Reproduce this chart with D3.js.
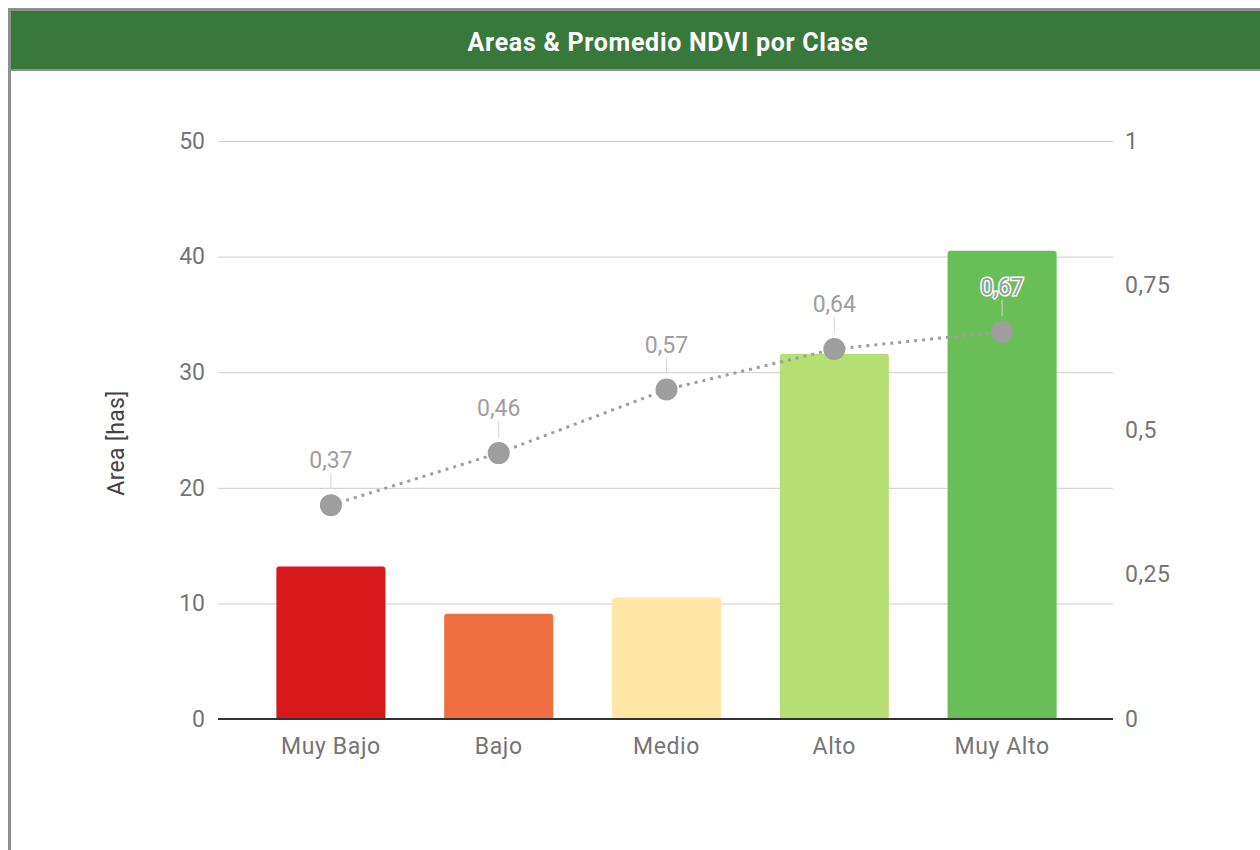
<!DOCTYPE html>
<html>
<head>
<meta charset="utf-8">
<script src="https://cdnjs.cloudflare.com/ajax/libs/d3/7.8.5/d3.min.js"></script>
<style>
  body { margin: 0; background: #fff; overflow: hidden; }
  #chart { font-family: Roboto, "Noto Sans", sans-serif; }
</style>
</head>
<body>
<div id="chart"></div>
<script>
'use strict';

var categories = ["Muy Bajo", "Bajo", "Medio", "Alto", "Muy Alto"];
var areas = [13.2, 9.1, 10.5, 31.6, 40.5];
var ndvi = [0.37, 0.46, 0.57, 0.64, 0.67];
var barColors = ["#d7191c", "#ee6f40", "#ffe8a5", "#b5df73", "#6abe58"];
var leftTicks = [0, 10, 20, 30, 40, 50];
var rightTicks = [0, 0.25, 0.5, 0.75, 1];

var W = 1260, H = 850;
var margin = {top: 141, left: 218, right: 147, bottom: 131};
var width = W - margin.left - margin.right,
  height = H - margin.top - margin.bottom;

var fontSize = "23px";
var comma = (v) => String(v).replace(".", ",");

var svg = d3.select("#chart").append("svg")
  .attr("width", W)
  .attr("height", H);

// frame + header
svg.append("rect")
  .attr("x", 9.5).attr("y", 9.5)
  .attr("width", 1300).attr("height", 900)
  .attr("fill", "#fff")
  .attr("stroke", "#8f8f8f").attr("stroke-width", 3);
svg.append("rect")
  .attr("x", 11).attr("y", 11)
  .attr("width", 1300).attr("height", 58)
  .attr("fill", "#38783b");
svg.append("line")
  .attr("x1", 11).attr("x2", W)
  .attr("y1", 70).attr("y2", 70)
  .attr("stroke", "#8f8f8f").attr("stroke-width", 2);
svg.append("text")
  .attr("x", 668).attr("y", 51)
  .attr("text-anchor", "middle")
  .style("font-family", "Roboto, sans-serif")
  .style("font-weight", "bold")
  .style("font-size", "25px")
  .style("letter-spacing", "0.7px")
  .attr("fill", "#fff")
  .text("Areas & Promedio NDVI por Clase");

var g = svg.append("g")
  .attr("transform", "translate(" + margin.left + "," + margin.top + ")");

var x = d3.scaleBand()
  .domain(categories)
  .range([29, 868])
  .paddingInner(0.35)
  .paddingOuter(0.175);
var y = d3.scaleLinear().domain([0, 50]).range([height, 0]);
var y2 = d3.scaleLinear().domain([0, 1]).range([height, 0]);

// gridlines
g.selectAll(".grid")
  .data(leftTicks.slice(1))
  .enter().append("line")
  .attr("class", "grid")
  .attr("x1", 0).attr("x2", width)
  .attr("y1", (d) => y(d) + 0.5).attr("y2", (d) => y(d) + 0.5)
  .attr("stroke", "#cccccc");

// left axis labels
var yAxis = d3.axisLeft(y).tickValues(leftTicks).tickSize(0).tickPadding(13);
g.append("g").call(yAxis)
  .call((a) => a.select(".domain").remove())
  .selectAll("text")
  .style("font-size", fontSize)
  .style("font-family", "Roboto, sans-serif")
  .attr("fill", "#757575");

var y2Axis = d3.axisRight(y2).tickValues(rightTicks).tickSize(0).tickPadding(12)
  .tickFormat(comma);
g.append("g").attr("transform", "translate(" + width + ",0)").call(y2Axis)
  .call((a) => a.select(".domain").remove())
  .selectAll("text")
  .style("font-size", fontSize)
  .style("font-family", "Roboto, sans-serif")
  .style("letter-spacing", "0.5px")
  .attr("fill", "#757575");

// axis title
g.append("text")
  .attr("transform", "translate(" + (-94) + "," + (height / 2 + 13) + ") rotate(-90)")
  .attr("text-anchor", "middle")
  .style("font-size", fontSize)
  .style("letter-spacing", "0.3px")
  .attr("fill", "#444")
  .text("Area [has]");

// bars
g.selectAll(".bar")
  .data(areas)
  .enter().append("path")
  .attr("class", "bar")
  .attr("d", function(d, i) {
    var x0 = x(categories[i]), bw = x.bandwidth(), y0 = y(d), r = 3;
    return "M" + x0 + "," + height +
      "V" + (y0 + r) + "Q" + x0 + "," + y0 + " " + (x0 + r) + "," + y0 +
      "H" + (x0 + bw - r) + "Q" + (x0 + bw) + "," + y0 + " " + (x0 + bw) + "," + (y0 + r) +
      "V" + height + "Z";
  })
  .attr("fill", (d, i) => barColors[i]);

// baseline
g.append("line")
  .attr("x1", 0).attr("x2", width)
  .attr("y1", height).attr("y2", height)
  .attr("stroke", "#333").attr("stroke-width", 2);

// x labels
var xAxis = d3.axisBottom(x).tickSize(0).tickPadding(19);
g.append("g").attr("transform", "translate(0," + height + ")").call(xAxis)
  .call((a) => a.select(".domain").remove())
  .selectAll("text")
  .style("font-size", fontSize)
  .style("font-family", "Roboto, sans-serif")
  .style("letter-spacing", "0.6px")
  .attr("fill", "#757575");

// ndvi line
var cx = (i) => x(categories[i]) + x.bandwidth() / 2;
var line = d3.line()
  .x((d, i) => cx(i))
  .y((d) => y2(d));

g.append("path")
  .attr("d", line(ndvi))
  .attr("fill", "none")
  .attr("stroke", "#9e9e9e")
  .attr("stroke-width", 3)
  .attr("stroke-dasharray", "3,5");

// stems
g.selectAll(".stem")
  .data(ndvi)
  .enter().append("line")
  .attr("x1", (d, i) => cx(i)).attr("x2", (d, i) => cx(i))
  .attr("y1", (d) => y2(d) - 16).attr("y2", (d) => y2(d) - 32)
  .attr("stroke", "#d6d6d6");

g.selectAll(".pt")
  .data(ndvi)
  .enter().append("circle")
  .attr("cx", (d, i) => cx(i))
  .attr("cy", (d) => y2(d))
  .attr("r", 11)
  .attr("fill", "#9e9e9e");

g.selectAll(".lbl")
  .data(ndvi)
  .enter().append("text")
  .attr("x", (d, i) => cx(i))
  .attr("y", (d) => y2(d) - 37)
  .attr("text-anchor", "middle")
  .style("font-size", fontSize)
  .attr("fill", "#9e9e9e")
  .attr("stroke", "#fff")
  .attr("stroke-width", 3)
  .attr("paint-order", "stroke")
  .text(comma);
</script>
</body>
</html>
